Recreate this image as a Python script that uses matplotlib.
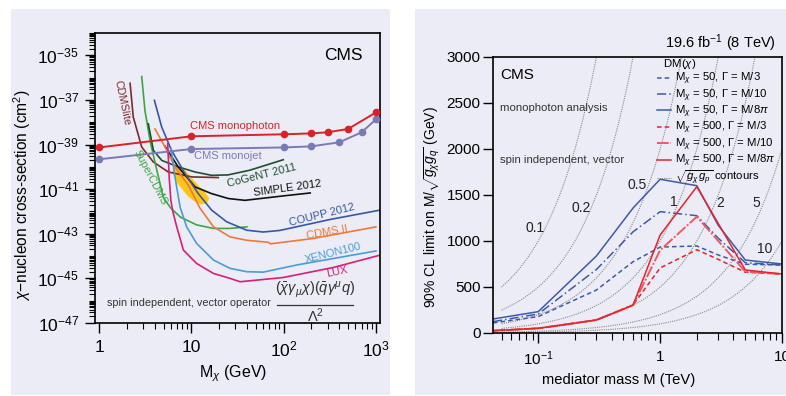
import numpy as np
import matplotlib
matplotlib.use('Agg')
import matplotlib.pyplot as plt
from matplotlib.patches import Rectangle
from matplotlib import ticker

plt.rcParams['font.family'] = ['Liberation Sans', 'DejaVu Sans']
plt.rcParams['mathtext.fontset'] = 'custom'
plt.rcParams['mathtext.rm'] = 'Liberation Sans'
plt.rcParams['mathtext.it'] = 'Liberation Sans:italic'
plt.rcParams['mathtext.bf'] = 'Liberation Sans:bold'
plt.rcParams['mathtext.sf'] = 'Liberation Sans'

# ---- left panel: mass (GeV) and log10 of cross-section (cm^2)
monophoton_m = [1, 10, 100, 200, 300, 500, 1000]
monophoton_s = [-39.13, -38.63, -38.54, -38.5, -38.45, -38.3, -37.56]
monojet_m = [1, 10, 100, 200, 400, 700, 1000]
monojet_s = [-39.66, -39.2, -39.13, -39.08, -38.9, -38.45, -37.87]
cdmslite_m = [2.17, 2.35, 2.9, 3.87, 5.63, 10.1, 19.6]
cdmslite_s = [-36.25, -37.77, -39.11, -39.78, -40.23, -40.45, -40.48]
supercdms_m = [2.9, 3.15, 3.6, 4.2, 5.0, 6.0, 7.6, 11.4, 17.4, 26, 40]
supercdms_s = [-35.95, -37.5, -38.9, -40.1, -41.4, -41.85, -42.25, -42.6, -42.76, -42.76, -42.69]
cogent_m = [3.42, 3.88, 4.78, 7.2, 11, 16.6, 25, 43, 99]
cogent_s = [-38.07, -39.26, -39.71, -40.0, -40.23, -40.38, -40.36, -40.15, -39.68]
simple_m = [5.19, 7.2, 11, 16.6, 25.2, 38, 100, 194]
simple_s = [-39.08, -40.0, -40.9, -41.2, -41.42, -41.5, -41.3, -41.17]
coupp_m = [3.98, 4.78, 6.1, 8.55, 11.9, 16.6, 24.1, 39.8, 60, 91, 317, 1100]
coupp_s = [-37.02, -38.22, -39.26, -40.3, -41.2, -41.94, -42.46, -42.84, -42.92, -42.85, -42.36, -41.94]
cdms2_m = [4.04, 5.19, 6.65, 9.3, 12.4, 17.4, 26.3, 39.8, 68, 72, 209, 1000]
cdms2_s = [-38.3, -39.11, -40.0, -40.83, -41.85, -42.69, -43.14, -43.29, -43.38, -43.45, -43.21, -42.69]
xenon_m = [6.03, 6.65, 7.55, 8.9, 11.4, 17.4, 26.3, 39.8, 60, 138, 1000]
xenon_s = [-39.18, -40.45, -41.8, -42.69, -43.43, -44.18, -44.55, -44.70, -44.72, -44.40, -43.77]
lux_m = [5.55, 5.75, 6.0, 6.3, 6.95, 8.2, 11.4, 17.4, 26.3, 33.7, 99, 346, 1100]
lux_s = [-38.96, -40.45, -41.5, -42.0, -42.69, -43.73, -44.33, -44.78, -45.0, -45.15, -44.96, -44.51, -43.96]
blob_m = [6.50, 6.18, 6.83, 7.93, 9.21, 10.7, 12.7, 14.8, 15.6, 14.1, 12.1, 10.4, 8.98, 7.73]
blob_s = [-39.98, -40.24, -40.65, -41.00, -41.32, -41.54, -41.68, -41.63, -41.41, -41.14, -40.87,
          -40.56, -40.24, -40.02]

# ---- right panel: mediator mass (TeV) and limit (GeV)
med_mass = [0.0425, 0.1, 0.3, 0.6, 1, 2, 3, 5, 10]
b50_m3 = [109, 178, 467, 775, 934, 946, 848, 747, 739]
b50_m10 = [123, 207, 690, 1100, 1319, 1275, 1030, 764, 739]
b50_m8pi = [152, 232, 837, 1359, 1671, 1601, 1170, 793, 750]
r500_m3 = [25, 51, 141, 304, 707, 905, 800, 660, 641]
r500_m10 = [25, 51, 141, 304, 900, 1264, 1000, 667, 641]
r500_m8pi = [25, 51, 141, 304, 1065, 1590, 1190, 685, 641]
couplings = [0.1, 0.2, 0.5, 1, 2, 5, 10]
coupling_labels = ['0.1', '0.2', '0.5', '1', '2', '5', '10']
label_mass = [0.094, 0.223, 0.65, 1.30, 3.14, 6.2, 7.2]
label_lim = [1141, 1359, 1609, 1424, 1413, 1413, 913]
contour_mass = np.geomspace(0.05, 10, 80)

bg = '#ECECF6'
fig = plt.figure(figsize=(7.86, 3.96), dpi=100)
fig.add_artist(Rectangle((0.014, 0.003), 0.482, 0.974, transform=fig.transFigure,
                         facecolor=bg, edgecolor='none', zorder=-1))
fig.add_artist(Rectangle((0.528, 0.003), 0.472, 0.974, transform=fig.transFigure,
                         facecolor=bg, edgecolor='none', zorder=-1))

ax1 = fig.add_axes([0.1209, 0.1843, 0.3626, 0.7323])
ax1.set_facecolor(bg)
p = lambda v: 10.0 ** np.array(v)

ax1.fill(blob_m, p(blob_s), color='#FFC514', lw=0, zorder=1)
curves = [
    (cdmslite_m, cdmslite_s, '#7A2B2B'),
    (supercdms_m, supercdms_s, '#3DA642'),
    (cogent_m, cogent_s, '#1F4F2E'),
    (simple_m, simple_s, '#111111'),
    (coupp_m, coupp_s, '#3557A6'),
    (cdms2_m, cdms2_s, '#F07838'),
    (xenon_m, xenon_s, '#4A9BD9'),
    (lux_m, lux_s, '#D5207A'),
]
for m, s, c in curves:
    ax1.plot(m, p(s), color=c, lw=1.2, zorder=2)
ax1.plot(monojet_m, p(monojet_s), color='#7A7AB6', lw=1.4, marker='o', ms=4.5, zorder=3)
ax1.plot(monophoton_m, p(monophoton_s), color='#DA2128', lw=1.4, marker='o', ms=4.5, zorder=3)

ax1.set_xscale('log')
ax1.set_yscale('log')
ax1.set_xlim(0.905, 1107)
ax1.set_ylim(1e-47, 1e-34)
ax1.xaxis.set_major_locator(ticker.FixedLocator([1, 10, 100, 1000]))
ax1.xaxis.set_major_formatter(ticker.FixedFormatter(['1', '10', '$10^2$', '$10^3$']))
ax1.xaxis.set_minor_locator(ticker.LogLocator(base=10, subs=np.arange(2, 10), numticks=50))
ax1.xaxis.set_minor_formatter(ticker.NullFormatter())
yexp = np.arange(-47, -34, 2)
ax1.yaxis.set_major_locator(ticker.FixedLocator(10.0 ** yexp))
ax1.yaxis.set_major_formatter(ticker.FixedFormatter(['$10^{%d}$' % e for e in yexp]))
ax1.yaxis.set_minor_locator(ticker.LogLocator(base=10, subs=np.arange(1, 10), numticks=50))
ax1.yaxis.set_minor_formatter(ticker.NullFormatter())
ax1.tick_params(which='major', direction='out', length=7, width=1, labelsize=12.5)
ax1.tick_params(axis='y', which='major', pad=4.5)
ax1.tick_params(axis='x', which='major', pad=5)
ax1.tick_params(which='minor', direction='out', length=4.5, width=0.8)
for sp in ax1.spines.values():
    sp.set_linewidth(1.2)
ax1.set_xlabel(r'M$_\chi$ (GeV)', fontsize=11.5)
ax1.xaxis.set_label_coords(0.484, -0.14)
ax1.set_ylabel(r'$\chi$−nucleon cross-section (cm$^2$)', fontsize=11.2)
ax1.yaxis.set_label_coords(-0.218, 0.44)

T = ax1.transAxes
ax1.text(0.87, 0.924, 'CMS', transform=T, fontsize=12.5, ha='center', va='center')
ax1.text(0.491, 0.679, 'CMS monophoton', transform=T, fontsize=8, color='#DA2128', ha='center', va='center')
ax1.text(0.467, 0.576, 'CMS monojet', transform=T, fontsize=8, color='#7A7AB6', ha='center', va='center')
ax1.text(0.095, 0.759, 'CDMSlite', transform=T, fontsize=7.8, color='#7A2B2B', ha='center', va='center', rotation=-78)
ax1.text(0.193, 0.503, 'SuperCDMS', transform=T, fontsize=7.8, color='#3DA642', ha='center', va='center', rotation=-62)
ax1.text(0.586, 0.510, 'CoGeNT 2011', transform=T, fontsize=8, color='#1F4F2E', ha='center', va='center', rotation=14)
ax1.text(0.674, 0.466, 'SIMPLE 2012', transform=T, fontsize=8, color='#111111', ha='center', va='center', rotation=8)
ax1.text(0.796, 0.372, 'COUPP 2012', transform=T, fontsize=8, color='#3557A6', ha='center', va='center', rotation=14)
ax1.text(0.814, 0.314, 'CDMS II', transform=T, fontsize=8, color='#F07838', ha='center', va='center', rotation=10)
ax1.text(0.835, 0.241, 'XENON100', transform=T, fontsize=8, color='#4A9BD9', ha='center', va='center', rotation=14)
ax1.text(0.849, 0.176, 'LUX', transform=T, fontsize=8, color='#D5207A', ha='center', va='center', rotation=12)
ax1.text(0.042, 0.069, 'spin independent, vector operator', transform=T, fontsize=7.8,
         color='#333333', ha='left', va='center')
ax1.text(0.772, 0.114, r'$(\bar{\chi}\gamma_\mu\chi)(\bar{q}\gamma^\mu q)$', transform=T,
         fontsize=10.5, color='#333333', ha='center', va='center')
ax1.plot([0.639, 0.905], [0.062, 0.062], transform=T, color='#333333', lw=0.9)
ax1.text(0.772, 0.024, r'$\Lambda^2$', transform=T, fontsize=10.5, color='#333333', ha='center', va='center')

# ---- right panel
ax2 = fig.add_axes([0.6272, 0.1591, 0.3677, 0.6970])
ax2.set_facecolor(bg)
for g in couplings:
    ax2.plot(contour_mass, 1000 * contour_mass / g, color='#8A8A8A', lw=0.8, ls=(0, (1, 1)), zorder=1)
for lab, x, y in zip(coupling_labels, label_mass, label_lim):
    ax2.text(x, y, lab, fontsize=10, ha='center', va='center', color='#222222')

blue = '#3D5AA8'
red = '#E3242B'
ax2.plot(med_mass, b50_m3, color=blue, lw=1.1, ls=(0, (3, 2)), label=r'M$_\chi$ = 50, $\Gamma$ = M/3')
ax2.plot(med_mass, b50_m10, color=blue, lw=1.1, ls=(0, (6, 2, 1, 2)), label=r'M$_\chi$ = 50, $\Gamma$ = M/10')
ax2.plot(med_mass, b50_m8pi, color=blue, lw=1.1, label=r'M$_\chi$ = 50, $\Gamma$ = M/8$\pi$')
ax2.plot(med_mass, r500_m3, color=red, lw=1.1, ls=(0, (3, 2)), label=r'M$_\chi$ = 500, $\Gamma$ = M/3')
ax2.plot(med_mass, r500_m10, color='#EE5A64', lw=1.4, ls=(0, (6, 1, 1, 1)), label=r'M$_\chi$ = 500, $\Gamma$ = M/10')
ax2.plot(med_mass, r500_m8pi, color=red, lw=1.1, label=r'M$_\chi$ = 500, $\Gamma$ = M/8$\pi$')
ax2.plot([], [], color='#8A8A8A', lw=0.8, ls=(0, (1, 1)), label=r'$\sqrt{g_\chi\, g_p}$ contours')

ax2.set_xscale('log')
ax2.set_xlim(0.0425, 10)
ax2.set_ylim(0, 3000)
ax2.xaxis.set_major_locator(ticker.FixedLocator([0.1, 1, 10]))
ax2.xaxis.set_major_formatter(ticker.FixedFormatter(['$10^{-1}$', '1', '10']))
ax2.xaxis.set_minor_locator(ticker.LogLocator(base=10, subs=np.arange(2, 10), numticks=50))
ax2.xaxis.set_minor_formatter(ticker.NullFormatter())
ax2.yaxis.set_major_locator(ticker.MultipleLocator(500))
ax2.tick_params(which='major', direction='out', length=7, width=1, labelsize=11)
ax2.tick_params(axis='y', which='major', pad=2)
ax2.tick_params(axis='x', which='major', pad=5)
ax2.tick_params(which='minor', direction='out', length=5, width=0.8)
for sp in ax2.spines.values():
    sp.set_linewidth(1.2)
ax2.set_xlabel('mediator mass M (TeV)', fontsize=10.6)
ax2.xaxis.set_label_coords(0.436, -0.145)
ax2.set_ylabel(r'90% CL limit on M/$\sqrt{g_\chi g_q}$ (GeV)', fontsize=10)
ax2.yaxis.set_label_coords(-0.175, 0.457)

T2 = ax2.transAxes
ax2.text(0.024, 0.935, 'CMS', transform=T2, fontsize=11, ha='left', va='center')
ax2.text(0.024, 0.815, 'monophoton analysis', transform=T2, fontsize=8.2, color='#333333', ha='left', va='center')
ax2.text(0.024, 0.627, 'spin independent, vector', transform=T2, fontsize=8.2, color='#333333', ha='left', va='center')
ax2.text(0.979, 1.051, r'19.6 fb$^{-1}$ (8 TeV)', transform=T2, fontsize=10.5, ha='right', va='center')

leg = ax2.legend(loc='upper left', bbox_to_anchor=(0.562, 1.005), frameon=False,
                 title=r'  DM($\chi$)', title_fontsize=8.2, alignment='left',
                 handlelength=1.3, handleheight=0.5, handletextpad=0.3, labelspacing=0.0,
                 borderpad=0.1, borderaxespad=0, prop={'size': 8.2})

fig.savefig('out.png', dpi=100, facecolor='white')
